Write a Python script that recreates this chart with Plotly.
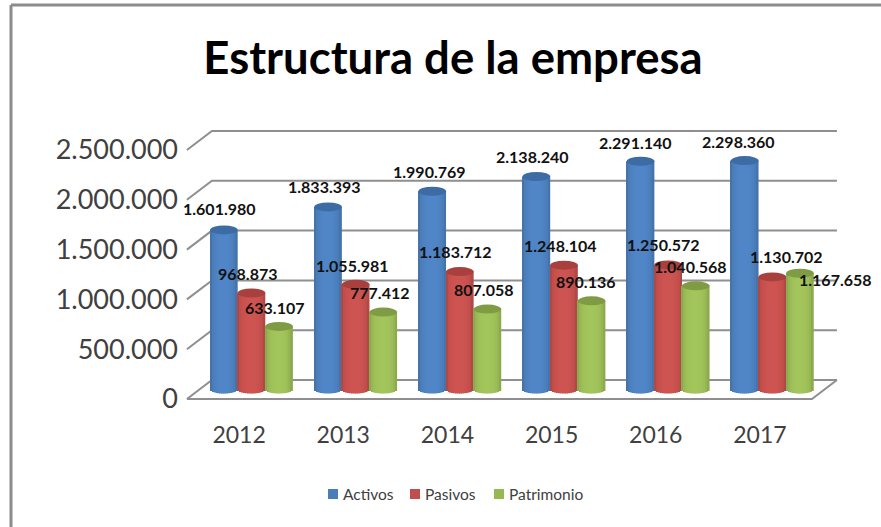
"""Estructura de la empresa: 3D-look cylinder columns drawn on flat Plotly axes."""

import math

import plotly.graph_objects as go

YEARS = ["2012", "2013", "2014", "2015", "2016", "2017"]
ACTIVOS = [1601980, 1833393, 1990769, 2138240, 2291140, 2298360]
PASIVOS = [968873, 1055981, 1183712, 1248104, 1250572, 1130702]
PATRIMONIO = [633107, 777412, 807058, 890136, 1040568, 1167658]
Y_TICKS = [0, 500000, 1000000, 1500000, 2000000, 2500000]

SERIES = [
    ("Activos", ACTIVOS, "#4f84c4", "#3c6ca3"),
    ("Pasivos", PASIVOS, "#cb5350", "#a8403d"),
    ("Patrimonio", PATRIMONIO, "#a0c25a", "#7f9c45"),
]

# hand placed label offsets in px from the top of each column (the original has them dragged around)
LABEL_DX = [
    [-4, -4, -3, -4, -5, -6],
    [-4, -3, -4, -4, -5, 14],
    [-5, -4, -4, -6, -5, 36],
]
LABEL_DY = [
    [21, 20, 20, 20, 19, 19],
    [20, 19, 20, 20, 20, 20],
    [19, 20, 20, 19, 19, -6],
]

W, H = 881, 527
PX_PER_CAT = 104.17
PX_PER_UNIT = 99.6e-6
# front plane of the chart box, in px
FRONT_L, FRONT_R, FRONT_Y0, FRONT_Y25 = 187, 812, 399, 150
# columns stand half way into the box, full-figure axes are scaled from there
MID_X0, MID_Y0 = 251.5, 389.5
FULL_X = [-MID_X0 / PX_PER_CAT, (W - MID_X0) / PX_PER_CAT]
FULL_Y = [(MID_Y0 - H) / PX_PER_UNIT, MID_Y0 / PX_PER_UNIT]
# half the depth of the box, data units
DX, DY = 12.5 / PX_PER_CAT, 9.5 / PX_PER_UNIT

BAR_STEP = 27.6 / PX_PER_CAT
N_STRIPS = 14
STRIP = BAR_STEP / N_STRIPS
ELL_H = 4.5 / PX_PER_UNIT

# legend is laid out by hand, native one can't get this tight
LEGEND_SWATCH_X = [328, 410, 494]
LEGEND_Y = 494


def shade(color, f):
    r, g, b = (int(color[i:i + 2], 16) for i in (1, 3, 5))
    return "rgb(%d,%d,%d)" % (min(255, r * f), min(255, g * f), min(255, b * f))


fig = go.Figure()

# box: back gridlines, left diagonals and floor
grid_x, grid_y = [], []
for v in Y_TICKS:
    grid_x += [-0.5 - DX, -0.5 + DX, 5.5 + DX, None]
    grid_y += [v - DY, v + DY, v + DY, None]
grid_x += [-0.5 - DX, 5.5 - DX, 5.5 + DX]
grid_y += [-DY, -DY, DY]
fig.add_trace(
    go.Scatter(
        x=grid_x, y=grid_y, mode="lines", line=dict(color="#8f8f8f", width=2),
        showlegend=False, hoverinfo="skip",
    )
)

# each column is a row of thin bars, darker towards the edges
for s, (name, values, color, cap) in enumerate(SERIES):
    left = (s - 1.5) * BAR_STEP
    for j in range(N_STRIPS):
        t = (j + 0.5) / N_STRIPS * 2 - 1
        arc = math.sqrt(1 - t * t)
        base = -ELL_H * 0.9 * arc
        fig.add_trace(
            go.Bar(
                x=list(range(len(YEARS))),
                y=[v - base for v in values],
                base=base,
                width=STRIP,
                offset=left + j * STRIP,
                marker=dict(color=shade(color, 0.66 + 0.36 * arc ** 0.5), line_width=0),
                name=name,
                xaxis="x2",
                yaxis="y2",
                hoverinfo="skip",
            )
        )
    for i, v in enumerate(values):
        cx = i + (s - 1) * BAR_STEP
        fig.add_shape(
            type="circle", xref="x2", yref="y2", layer="above",
            x0=cx - BAR_STEP / 2, x1=cx + BAR_STEP / 2, y0=v - ELL_H, y1=v + ELL_H,
            fillcolor=cap, line_width=0,
        )
        fig.add_annotation(
            x=cx, y=v, xref="x2", yref="y2", text=f"{v:,d}".replace(",", "."),
            showarrow=False, xanchor="center", yanchor="middle",
            xshift=LABEL_DX[s][i], yshift=LABEL_DY[s][i],
            font=dict(family="Lato", size=16, color="#111111", weight="bold"),
        )
    # legend entry
    lx = LEGEND_SWATCH_X[s]
    fig.add_shape(
        type="rect", xref="paper", yref="paper",
        x0=lx / W, x1=(lx + 10) / W, y0=1 - (LEGEND_Y + 5) / H, y1=1 - (LEGEND_Y - 5) / H,
        fillcolor=shade(color, 0.95), line_width=0,
    )
    fig.add_annotation(
        x=(lx + 13) / W, y=1 - LEGEND_Y / H, xref="paper", yref="paper", text=name,
        showarrow=False, xanchor="left", yanchor="middle",
        font=dict(family="Lato", size=15.5, color="#404040"),
    )

# empty trace so the tick-label axes get drawn
fig.add_trace(
    go.Scatter(
        x=list(range(len(YEARS))), y=Y_TICKS, mode="none",
        xaxis="x3", yaxis="y3", showlegend=False, hoverinfo="skip",
    )
)

# frame of the pasted picture
for x0, y0, x1, y1 in [(11, 5, W, 5), (11, 5, 11, H)]:
    fig.add_shape(
        type="line", xref="paper", yref="paper", layer="below",
        x0=x0 / W, x1=x1 / W, y0=1 - y0 / H, y1=1 - y1 / H,
        line=dict(color="#8c8c8c", width=3),
    )

fig.update_layout(
    width=W,
    height=H,
    margin=dict(l=0, r=0, t=0, b=0, autoexpand=False),
    paper_bgcolor="white",
    plot_bgcolor="rgba(0,0,0,0)",
    barmode="overlay",
    showlegend=False,
    separators=",.",
    title=dict(
        text="<b>Estructura de la empresa</b>",
        x=453 / W, y=1 - 58 / H, xanchor="center", yanchor="middle",
        font=dict(family="Lato", size=45.5, color="#000000"),
    ),
    xaxis=dict(domain=[0, 1], range=FULL_X, visible=False),
    yaxis=dict(domain=[0, 1], range=FULL_Y, visible=False),
    xaxis2=dict(domain=[0, 1], range=FULL_X, anchor="y2", visible=False),
    yaxis2=dict(domain=[0, 1], range=FULL_Y, anchor="x2", visible=False),
    xaxis3=dict(
        domain=[FRONT_L / W, FRONT_R / W],
        range=[-0.5, 5.5],
        anchor="y3",
        tickvals=list(range(len(YEARS))),
        ticktext=YEARS,
        showgrid=False,
        zeroline=False,
        showline=False,
        ticks="",
        ticklabelstandoff=20,
        tickfont=dict(family="Lato", size=23, color="#404040"),
    ),
    yaxis3=dict(
        domain=[1 - FRONT_Y0 / H, 1 - FRONT_Y25 / H],
        range=[0, 2500000],
        anchor="x3",
        tickvals=Y_TICKS,
        tickformat=",d",
        showgrid=False,
        zeroline=False,
        showline=False,
        ticks="",
        ticklabelstandoff=8,
        tickfont=dict(family="Lato", size=27, color="#404040"),
    ),
)

fig.write_html("out.html", post_script="document.body.style.margin='0'", config=dict(displayModeBar=False))
